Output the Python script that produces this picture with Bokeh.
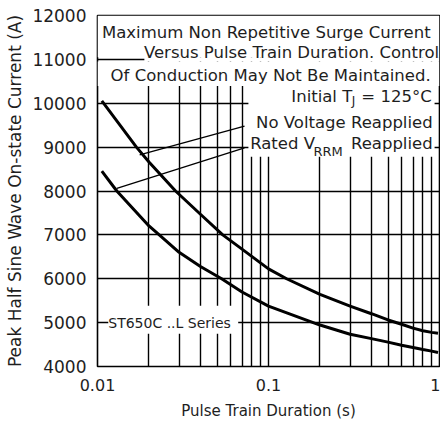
from bokeh.plotting import figure
from bokeh.models import FixedTicker, CustomJSTickFormatter, Label, BoxAnnotation
from bokeh.embed import file_html
from bokeh.resources import INLINE

# ---- data ----
t_no_voltage = [0.0106, 0.01689, 0.02, 0.0286, 0.04, 0.054, 0.07, 0.1, 0.1276,
                0.2, 0.3, 0.4, 0.5, 0.6, 0.7, 0.8, 0.9, 0.98]
i_no_voltage = [10052, 9000, 8660, 8000, 7470, 7000, 6675, 6226, 6000,
                5643, 5377, 5203, 5061, 4962, 4875, 4815, 4778, 4760]
t_rated = [0.0106, 0.01297, 0.02, 0.02297, 0.03, 0.04, 0.0532, 0.07, 0.1,
           0.2, 0.3, 0.4, 0.5, 0.6, 0.7, 0.8, 0.9, 0.98]
i_rated = [8451, 8000, 7203, 7000, 6603, 6280, 6000, 5699, 5375,
           4945, 4736, 4635, 4555, 4485, 4432, 4388, 4350, 4318]

x_major = [0.01, 0.1, 1]
x_minor = [0.02, 0.03, 0.04, 0.05, 0.06, 0.07, 0.08, 0.09,
           0.2, 0.3, 0.4, 0.5, 0.6, 0.7, 0.8, 0.9]
y_ticks = [4000, 5000, 6000, 7000, 8000, 9000, 10000, 11000, 12000]

# leader lines (from curve to label)
lead_x0 = [0.01764, 0.01297]
lead_y0 = [8826, 8061]
lead_x1 = [0.0724, 0.0724]
lead_y1 = [9481, 8985]

FONT = "DejaVu Sans"
TXT = "#1e1e1e"

p = figure(width=440, height=422, x_axis_type="log",
           x_range=(0.01, 1), y_range=(4000, 12000),
           output_backend="svg", toolbar_location=None,
           min_border_left=97, min_border_right=1, min_border_top=15, min_border_bottom=54)
p.background_fill_color = "white"
p.border_fill_color = "white"
p.outline_line_color = "black"
p.outline_line_width = 1.6

# axes
p.xaxis.ticker = FixedTicker(ticks=x_major, minor_ticks=x_minor)
p.xaxis.formatter = CustomJSTickFormatter(code="return String(Number(tick.toPrecision(6)));")
p.yaxis.ticker = FixedTicker(ticks=y_ticks)
for ax in (p.xaxis, p.yaxis):
    ax.axis_line_color = None
    ax.major_tick_line_color = None
    ax.minor_tick_line_color = None
    ax.major_label_text_font = FONT
    ax.major_label_text_color = TXT
    ax.axis_label_text_font = FONT
    ax.axis_label_text_color = TXT
    ax.axis_label_text_font_style = "normal"
p.yaxis.major_label_text_font_size = "17px"
p.xaxis.major_label_text_font_size = "16px"
p.yaxis.major_label_standoff = 5
p.xaxis.major_label_standoff = 6
p.yaxis.axis_label = "Peak Half Sine Wave On-state Current (A)"
p.yaxis.axis_label_text_font_size = "17px"
p.yaxis.axis_label_standoff = 4
p.xaxis.axis_label = "Pulse Train Duration (s)"
p.xaxis.axis_label_text_font_size = "15px"
p.xaxis.axis_label_standoff = 8

# grid
for g in (p.xgrid, p.ygrid):
    g.grid_line_color = "black"
    g.grid_line_width = 1.4
    g.grid_line_alpha = 1.0
p.xgrid.minor_grid_line_color = "black"
p.xgrid.minor_grid_line_width = 1.4

# white blocks behind the texts
boxes = [
    dict(left=0.01, right=1, top=12000, bottom=11050),
    dict(left=0.0188, right=1, top=11050, bottom=10950),
    dict(left=0.01, right=1, top=10950, bottom=10391),
    dict(left=0.0763, right=0.936, top=10391, bottom=8782),
    dict(left=0.01156, right=0.0665, top=5382, bottom=4748),
]
for b in boxes:
    p.add_layout(BoxAnnotation(fill_color="white", fill_alpha=1.0, line_color=None,
                               level="underlay", **b))

# curves
p.line(t_no_voltage, i_no_voltage, line_color="black", line_width=3)
p.line(t_rated, i_rated, line_color="black", line_width=3)

# leader lines
p.segment(x0=lead_x0, y0=lead_y0, x1=lead_x1, y1=lead_y1, line_color="black", line_width=1.3)

def lab(x, y, text, size="16.5px", align="right", baseline="middle"):
    p.add_layout(Label(x=x, y=y, text=text, text_font=FONT, text_font_size=size,
                       text_color=TXT, text_align=align, text_baseline=baseline))

lab(0.888, 11615, "Maximum Non Repetitive Surge Current")
lab(0.995, 11161, "Versus Pulse Train Duration. Control")
lab(0.888, 10640, "Of Conduction May Not Be Maintained.")
lab(0.309, 10164, "Initial T")
lab(0.307, 10040, "J", size="12px", align="left")
lab(0.900, 10164, "= 125°C")
lab(0.912, 9552, "No Voltage Reapplied")
lab(0.187, 9077, "Rated V")
lab(0.183, 8890, "RRM", size="13px", align="left")
lab(0.912, 9077, "Reapplied")
lab(0.01156, 5000, "ST650C ..L Series", size="14px", align="left")

open("out.html", "w").write(file_html(p, INLINE))
